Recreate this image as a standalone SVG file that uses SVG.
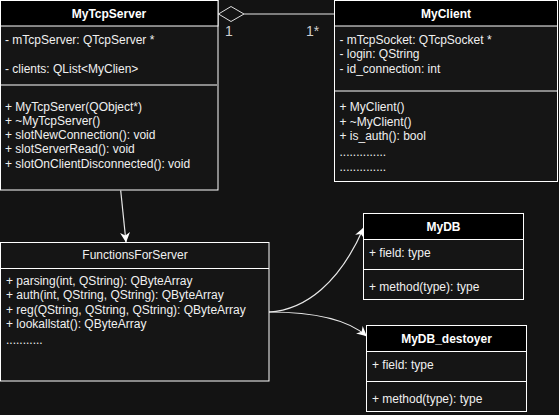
<svg xmlns="http://www.w3.org/2000/svg" width="559" height="415" viewBox="0 0 559 415">
  <style>
    .body { fill: #151515; stroke: #ffffff; stroke-width: 1; }
    .head { fill: #000000; stroke: #ffffff; stroke-width: 1; }
    .sep { stroke: #ffffff; stroke-width: 1; }
    .sep-gray { stroke: #8a8a8a; stroke-width: 2; }
    text { font-family: "Liberation Sans", Arial, sans-serif; font-size: 12px; fill: #f0f0f0; }
    .title { font-weight: bold; text-anchor: middle; fill: #ffffff; }
    .title-plain { text-anchor: middle; fill: #f0f0f0; }
    .mult { font-size: 14px; fill: #cfcfcf; }
    .edge { fill: none; stroke: #e8e8e8; stroke-width: 1.2; }
  </style>
  <defs>
    <marker id="arrow" viewBox="0 0 10 10" refX="9.5" refY="5" markerWidth="10" markerHeight="10" markerUnits="userSpaceOnUse" orient="auto">
      <path d="M0,0 L10,5 L0,10 L3,5 Z" fill="#ffffff"/>
    </marker>
  </defs>

  <rect x="0" y="0" width="559" height="415" fill="#131313"/>

  <!-- connectors -->
  <g id="connectors">
    <line class="edge" x1="244" y1="14" x2="334" y2="14" stroke="#cccccc"/>
    <polygon points="218.5,14 231,6.5 244,14 231,21.5" fill="#131313" stroke="#e0e0e0" stroke-width="1"/>
    <text class="mult" x="225" y="36">1</text>
    <text class="mult" x="306" y="36">1*</text>
    <path class="edge" d="M120.7,190.5 L126,242" marker-end="url(#arrow)"/>
    <path class="edge" d="M269,312 C306,310 340,282 363.5,228" marker-end="url(#arrow)"/>
    <path class="edge" d="M269,312 C312,312 346,318 366.5,336" marker-end="url(#arrow)"/>
  </g>

  <!-- MyTcpServer -->
  <g id="MyTcpServer">
    <rect class="body" x="0.5" y="0.5" width="217.5" height="189.5"/>
    <rect class="head" x="0.5" y="0.5" width="217.5" height="25.5"/>
    <text class="title" x="109" y="17.5">MyTcpServer</text>
    <text x="5" y="43.5">- mTcpServer: QTcpServer *</text>
    <text x="5" y="72.5">- clients: QList&lt;MyClien&gt;</text>
    <line class="sep-gray" x1="1" y1="85" x2="217.5" y2="85"/>
    <text x="5" y="110.5">+ MyTcpServer(QObject*)</text>
    <text x="5" y="124.5">+ ~MyTcpServer()</text>
    <text x="5" y="138.5">+ slotNewConnection(): void</text>
    <text x="5" y="153">+ slotServerRead(): void</text>
    <text x="5" y="167.5">+ slotOnClientDisconnected(): void</text>
  </g>

  <!-- MyClient -->
  <g id="MyClient">
    <rect class="body" x="334.5" y="0.5" width="223" height="181"/>
    <rect class="head" x="334.5" y="0.5" width="223" height="25.5"/>
    <text class="title" x="446" y="17.5">MyClient</text>
    <text x="339.5" y="44">- mTcpSocket: QTcpSocket *</text>
    <text x="339.5" y="58">- login: QString</text>
    <text x="339.5" y="72.5">- id_connection: int</text>
    <line class="sep" x1="334.5" y1="91" x2="557.5" y2="91"/>
    <text x="339.5" y="111">+ MyClient()</text>
    <text x="339.5" y="125.5">+ ~MyClient()</text>
    <text x="339.5" y="140">+ is_auth(): bool</text>
    <text x="339.5" y="156">..............</text>
    <text x="339.5" y="170.5">..............</text>
  </g>

  <!-- FunctionsForServer -->
  <g id="FunctionsForServer">
    <rect class="body" x="0.5" y="242.5" width="268.5" height="138.5"/>
    <line class="sep" x1="0.5" y1="268.5" x2="269" y2="268.5"/>
    <text class="title-plain" x="135" y="259">FunctionsForServer</text>
    <text x="6" y="284.5">+ parsing(int, QString): QByteArray</text>
    <text x="6" y="299">+ auth(int, QString, QString): QByteArray</text>
    <text x="6" y="313.5">+ reg(QString, QString, QString): QByteArray</text>
    <text x="6" y="328">+ lookallstat(): QByteArray</text>
    <text x="6" y="344">...........</text>
  </g>

  <!-- MyDB -->
  <g id="MyDB">
    <rect class="body" x="363.5" y="213.5" width="160" height="86"/>
    <rect class="head" x="363.5" y="213.5" width="160" height="26"/>
    <text class="title" x="443.5" y="231">MyDB</text>
    <text x="369" y="256.5">+ field: type</text>
    <line class="sep" x1="363.5" y1="269.5" x2="523.5" y2="269.5"/>
    <text x="369" y="291">+ method(type): type</text>
  </g>

  <!-- MyDB_destoyer -->
  <g id="MyDB_destoyer">
    <rect class="body" x="366.5" y="325.5" width="160" height="86"/>
    <rect class="head" x="366.5" y="325.5" width="160" height="26"/>
    <text class="title" x="446.5" y="343">MyDB_destoyer</text>
    <text x="372" y="368.5">+ field: type</text>
    <line class="sep" x1="366.5" y1="381.5" x2="526.5" y2="381.5"/>
    <text x="372" y="403">+ method(type): type</text>
  </g>
</svg>
